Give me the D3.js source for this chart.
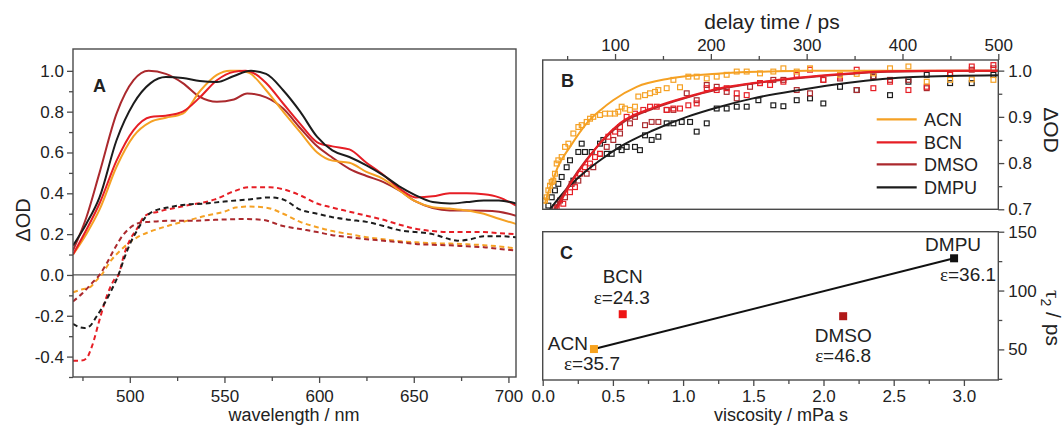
<!DOCTYPE html>
<html><head><meta charset="utf-8">
<script src="https://cdn.jsdelivr.net/npm/d3@7"></script>
<style>
body{margin:0;background:#fff}
svg{display:block}
text{font-family:"Liberation Sans",Arial,sans-serif;fill:#222}
</style>
</head><body>
<svg id="chart" width="1064" height="427"></svg>
<script>
// ---------------- DATA ----------------
const solvents = ["ACN", "BCN", "DMSO", "DMPU"];
const solventColors = ["#f5a124", "#e61e25", "#ab292d", "#1c1c1c"];

// Panel A: spectra (wavelength nm, ΔOD)
const wlTicks = [500, 550, 600, 650, 700];
const odTicksA = [-0.4, -0.2, 0.0, 0.2, 0.4, 0.6, 0.8, 1.0];
const specACN = [[470,0.10],[477,0.20],[484,0.32],[493,0.53],[502,0.68],[511,0.75],[519,0.77],[528,0.79],[537,0.90],[546,0.98],[553,1.0],[558,1.0],[563,0.99],[572,0.905],[581,0.80],[590,0.70],[599,0.60],[607,0.56],[616,0.55],[625,0.505],[634,0.47],[643,0.41],[651,0.36],[660,0.332],[669,0.325],[678,0.316],[687,0.30],[695,0.275],[704,0.25]];
const specBCN = [[470,0.10],[477,0.22],[484,0.35],[493,0.56],[502,0.71],[511,0.774],[519,0.78],[528,0.80],[537,0.87],[546,0.954],[555,0.995],[561,1.0],[567,0.98],[572,0.94],[581,0.84],[590,0.74],[599,0.65],[607,0.63],[616,0.615],[625,0.55],[634,0.49],[643,0.42],[651,0.38],[660,0.385],[669,0.40],[678,0.40],[687,0.395],[695,0.38],[704,0.34]];
const specDMSO = [[470,0.12],[477,0.28],[484,0.50],[493,0.79],[502,0.954],[510,1.0],[519,0.985],[528,0.94],[537,0.872],[546,0.848],[555,0.86],[562,0.889],[572,0.87],[581,0.815],[590,0.72],[599,0.63],[607,0.575],[616,0.52],[625,0.485],[634,0.455],[643,0.41],[651,0.36],[660,0.328],[669,0.316],[678,0.316],[687,0.315],[695,0.31],[704,0.29]];
const specDMPU = [[470,0.144],[477,0.25],[484,0.38],[493,0.66],[502,0.84],[511,0.94],[519,0.97],[528,0.965],[537,0.95],[546,0.945],[555,0.975],[564,1.0],[572,0.985],[581,0.905],[590,0.80],[599,0.676],[607,0.61],[616,0.578],[625,0.537],[634,0.488],[643,0.43],[651,0.39],[660,0.357],[669,0.35],[678,0.357],[687,0.365],[695,0.365],[704,0.35]];
const dashACN = [[470,-0.085],[475,-0.07],[479,-0.06],[482,-0.03],[485,0.0],[490,0.07],[495,0.12],[500,0.16],[505,0.19],[510,0.21],[520,0.24],[530,0.265],[540,0.29],[550,0.31],[556,0.33],[563,0.335],[572,0.33],[581,0.30],[590,0.26],[599,0.234],[607,0.215],[616,0.20],[625,0.185],[634,0.175],[643,0.165],[651,0.16],[660,0.155],[669,0.154],[678,0.15],[687,0.146],[695,0.14],[704,0.13]];
const dashBCN = [[470,-0.42],[474,-0.42],[477,-0.41],[480,-0.35],[484,-0.22],[488,-0.10],[492,-0.02],[494,0.0],[497,0.10],[500,0.17],[504,0.23],[508,0.29],[515,0.31],[530,0.34],[545,0.37],[555,0.41],[563,0.43],[574,0.43],[581,0.42],[590,0.39],[599,0.35],[607,0.33],[616,0.31],[625,0.29],[634,0.27],[643,0.245],[651,0.226],[660,0.215],[669,0.21],[678,0.21],[687,0.21],[695,0.205],[704,0.20]];
const dashDMSO = [[470,-0.13],[475,-0.09],[480,-0.04],[484,0.0],[488,0.06],[492,0.13],[496,0.19],[500,0.23],[505,0.255],[510,0.26],[520,0.265],[530,0.265],[545,0.27],[560,0.274],[570,0.27],[581,0.24],[590,0.225],[599,0.21],[607,0.195],[616,0.185],[625,0.175],[634,0.168],[643,0.16],[651,0.152],[660,0.148],[669,0.145],[678,0.14],[687,0.136],[695,0.128],[704,0.12]];
const dashDMPU = [[470,-0.24],[473,-0.255],[476,-0.26],[479,-0.25],[482,-0.21],[486,-0.15],[490,-0.08],[494,0.0],[497,0.08],[500,0.15],[504,0.22],[508,0.28],[512,0.31],[520,0.33],[530,0.345],[540,0.35],[550,0.36],[563,0.37],[574,0.38],[581,0.37],[590,0.32],[599,0.30],[607,0.283],[616,0.27],[625,0.26],[634,0.24],[643,0.218],[651,0.21],[660,0.20],[669,0.175],[673,0.168],[680,0.175],[687,0.19],[695,0.19],[704,0.185]];

// Panel B: kinetics (delay time ps, ΔOD)
const timeTicks = [100, 200, 300, 400, 500];
const odTicksB = [0.7, 0.8, 0.9, 1.0];
const ptsACN = [[26.9,0.719],[28.6,0.726],[30.4,0.741],[32.1,0.751],[33.9,0.759],[35.6,0.762],[37.3,0.777],[39.1,0.799],[40.8,0.806],[44.3,0.813],[47.8,0.835],[51.3,0.842],[56.5,0.864],[61.7,0.878],[65.2,0.882],[70.4,0.889],[73.9,0.896],[77.3,0.900],[84.3,0.904],[89.5,0.907],[94.7,0.907],[100,0.907],[103.4,0.911],[106.9,0.922],[110.4,0.918],[115.6,0.915],[120.8,0.922],[124.3,0.944],[131.3,0.947],[136.5,0.951],[141.7,0.954],[145.2,0.958],[153.9,0.962],[160.9,0.980],[167.8,0.964],[176.5,0.987],[185.2,0.987],[195.7,0.983],[206.1,0.987],[216.5,0.991],[227.0,0.998],[237.4,0.998],[251.3,0.994],[265.2,0.998],[275.7,1.005],[289.6,0.998],[303.5,1.005],[334.8,0.991],[352.2,0.993],[369.6,0.994],[387.0,1.005],[406.2,1.009],[425.3,0.976],[449.7,0.980],[472.3,0.981],[494.9,0.980]];
const ptsBCN = [[39.1,0.704],[46.0,0.712],[53.0,0.737],[58.2,0.748],[63.4,0.777],[68.6,0.791],[73.9,0.799],[79.1,0.813],[84.3,0.820],[93.0,0.857],[100,0.868],[105.2,0.878],[112.1,0.900],[120.8,0.907],[129.5,0.915],[136.5,0.922],[143.5,0.922],[153.9,0.915],[160.9,0.918],[167.8,0.918],[176.5,0.925],[185.2,0.929],[195.7,0.962],[206.1,0.958],[216.5,0.962],[227.0,0.951],[237.4,0.947],[251.3,0.973],[261.8,0.969],[275.7,0.976],[289.6,0.991],[303.5,1.002],[317.4,0.980],[334.8,0.987],[352.2,1.002],[369.6,0.962],[387.0,0.976],[406.2,0.958],[425.3,0.965],[449.7,0.991],[472.3,1.009],[494.9,1.012]];
const ptsDMSO = [[37.3,0.704],[42.6,0.719],[47.8,0.726],[54.7,0.755],[61.7,0.762],[70.4,0.777],[77.3,0.791],[84.3,0.820],[91.3,0.835],[98.2,0.850],[105.2,0.864],[115.6,0.886],[120.8,0.900],[131.3,0.882],[138.2,0.889],[145.2,0.889],[153.9,0.915],[160.9,0.915],[174.8,0.951],[185.2,0.936],[195.7,0.969],[206.1,0.965],[216.5,0.954],[227.0,0.940],[240.9,0.965],[251.3,0.973],[265.2,0.980],[275.7,0.980],[289.6,0.958],[303.5,0.951],[317.4,0.980],[334.8,0.983],[352.2,0.958],[369.6,0.987],[387.0,0.980],[406.2,0.980],[425.3,0.962],[449.7,0.994],[472.3,1.002],[494.9,1.005]];
const ptsDMPU = [[30.4,0.708],[33.9,0.726],[37.3,0.741],[40.8,0.755],[44.3,0.770],[49.5,0.791],[53.0,0.806],[56.5,0.762],[61.7,0.824],[65.2,0.842],[68.6,0.824],[75.6,0.824],[84.3,0.842],[87.8,0.850],[91.3,0.820],[96.5,0.820],[103.4,0.835],[106.9,0.828],[112.1,0.835],[120.8,0.835],[126.0,0.828],[131.3,0.860],[138.2,0.850],[145.2,0.857],[153.9,0.886],[160.9,0.886],[169.6,0.889],[178.3,0.889],[185.2,0.868],[195.7,0.886],[206.1,0.918],[216.5,0.918],[227.0,0.922],[237.4,0.922],[249.6,0.936],[265.2,0.925],[275.7,0.923],[289.6,0.936],[303.5,0.940],[317.4,0.929],[334.8,0.965],[352.2,0.958],[369.6,0.987],[387.0,0.947],[406.2,0.976],[425.3,0.991],[449.7,0.973],[472.3,0.973],[494.9,0.991]];
const fitACN = [[26.9,0.712],[30,0.735],[35,0.762],[40,0.790],[53,0.835],[70.4,0.886],[85,0.915],[98,0.936],[122.6,0.965],[157,0.983],[209.6,0.994],[260,0.998],[300,1.0],[500,1.0]];
const fitBCN = [[39,0.70],[55,0.76],[70.4,0.806],[87,0.85],[105,0.886],[140,0.92],[175,0.943],[209.6,0.962],[244,0.973],[293,0.985],[340,0.993],[376.6,0.998],[430,1.0],[500,1.0]];
const fitDMSO = [[37,0.70],[53,0.757],[70.4,0.808],[87,0.848],[105,0.883],[140,0.918],[175,0.942],[209.6,0.960],[244,0.972],[293,0.984],[340,0.992],[376.6,0.997],[430,0.999],[500,1.0]];
const fitDMPU = [[32,0.70],[50,0.745],[70.4,0.784],[87,0.81],[105,0.835],[140,0.871],[175,0.90],[209.6,0.922],[244,0.94],[293,0.958],[341.8,0.973],[411,0.986],[500,0.99]];

// Panel C: tau2 vs viscosity
const viscosity = [0.365, 0.57, 2.14, 2.93];
const tau2 = [50.3, 79.9, 78.2, 127.4];
const epsilon = ["ε=35.7", "ε=24.3", "ε=46.8", "ε=36.1"];
const viscTicks = [0.0, 0.5, 1.0, 1.5, 2.0, 2.5, 3.0];
const tauTicks = [50, 100, 150];
const trendLine = ["ACN", "DMPU"];

// ---------------- DRAW ----------------
const svg = d3.select("#chart");
const axisColor = "#4a4a4a";
const tickFont = 17;

const A = {l:73, r:516, t:49, b:377};
const B = {l:542.7, r:998.3, t:60, b:209.3};
const C = {l:542.7, r:998.3, t:231.7, b:380};

function frame(p){
  svg.append("rect").attr("x",p.l).attr("y",p.t).attr("width",p.r-p.l).attr("height",p.b-p.t)
    .attr("fill","none").attr("stroke",axisColor).attr("stroke-width",1.4);
}
function styleAxis(g){
  g.selectAll(".domain").remove();
  g.selectAll("line").attr("stroke",axisColor).attr("stroke-width",1.3);
  g.selectAll("text").style("font-size",tickFont+"px").attr("fill","#222");
}
function clip(id,p){
  svg.append("clipPath").attr("id",id).append("rect")
    .attr("x",p.l).attr("y",p.t).attr("width",p.r-p.l).attr("height",p.b-p.t);
}
const fmt1 = d => d3.format(".1f")(d).replace("−","-");

// ===== Panel A =====
const xA = d3.scaleLinear().domain([470, 704]).range([A.l, A.r]);
const yA = d3.scaleLinear().domain([-0.5, 1.107]).range([A.b, A.t]);
clip("clipA", A);

svg.append("g").attr("transform",`translate(${A.l},0)`)
  .call(d3.axisLeft(yA).tickValues([-0.5,-0.3,-0.1,0.1,0.3,0.5,0.7,0.9]).tickSize(4).tickFormat(""))
  .call(styleAxis);
svg.append("g").attr("transform",`translate(${A.l},0)`)
  .call(d3.axisLeft(yA).tickValues(odTicksA).tickSize(6).tickPadding(3).tickFormat(fmt1))
  .call(styleAxis);
svg.append("g").attr("transform",`translate(0,${A.b})`)
  .call(d3.axisBottom(xA).tickValues([475,525,575,625,675]).tickSize(4).tickFormat(""))
  .call(styleAxis);
svg.append("g").attr("transform",`translate(0,${A.b})`)
  .call(d3.axisBottom(xA).tickValues(wlTicks).tickSize(6).tickPadding(7).tickFormat(d3.format("d")))
  .call(styleAxis);

svg.append("line").attr("x1",A.l).attr("x2",A.r).attr("y1",yA(0)).attr("y2",yA(0))
  .attr("stroke","#555").attr("stroke-width",1.3);

const lineA = d3.line().x(d=>xA(d[0])).y(d=>yA(d[1])).curve(d3.curveMonotoneX);
const gA = svg.append("g").attr("clip-path","url(#clipA)");
const dashSets = [dashACN, dashBCN, dashDMSO, dashDMPU];
const specSets = [specACN, specBCN, specDMSO, specDMPU];
dashSets.forEach((s,i)=>{
  gA.append("path").attr("d",lineA(s)).attr("fill","none").attr("stroke",solventColors[i])
    .attr("stroke-width",2).attr("stroke-dasharray","5,3.5");
});
[2,0,1,3].forEach(i=>{
  gA.append("path").attr("d",lineA(specSets[i])).attr("fill","none").attr("stroke",solventColors[i])
    .attr("stroke-width",2);
});
frame(A);
svg.append("text").attr("x",93).attr("y",92).style("font-size","18px").style("font-weight","bold").text("A");
svg.append("text").attr("transform",`translate(30,220) rotate(-90)`).attr("text-anchor","middle")
  .style("font-size","20px").text("ΔOD");
svg.append("text").attr("x",294).attr("y",421).attr("text-anchor","middle").style("font-size","18px").text("wavelength / nm");

// ===== Panel B =====
const xB = d3.scaleLinear().domain([24.5, 500]).range([B.l, B.r]);
const yB = d3.scaleLinear().domain([0.7, 1.023]).range([B.b, B.t]);
clip("clipB", B);
svg.append("g").attr("transform",`translate(0,${B.t})`)
  .call(d3.axisTop(xB).tickValues([50,150,250,350,450]).tickSize(4).tickFormat(""))
  .call(styleAxis);
svg.append("g").attr("transform",`translate(0,${B.t})`)
  .call(d3.axisTop(xB).tickValues(timeTicks).tickSize(6).tickPadding(3).tickFormat(d3.format("d")))
  .call(styleAxis);
svg.append("g").attr("transform",`translate(${B.r},0)`)
  .call(d3.axisRight(yB).tickValues([0.75,0.85,0.95]).tickSize(4).tickFormat(""))
  .call(styleAxis);
svg.append("g").attr("transform",`translate(${B.r},0)`)
  .call(d3.axisRight(yB).tickValues(odTicksB).tickSize(6).tickPadding(4).tickFormat(fmt1))
  .call(styleAxis);

const gB = svg.append("g").attr("clip-path","url(#clipB)");
const ptSets = [ptsACN, ptsBCN, ptsDMSO, ptsDMPU];
const fitSets = [fitACN, fitBCN, fitDMSO, fitDMPU];
const lineB = d3.line().x(d=>xB(d[0])).y(d=>yB(d[1])).curve(d3.curveMonotoneX);
const ms = 4.8;
[3,2,1,0].forEach(i=>{
  gB.selectAll(null).data(ptSets[i]).enter().append("rect")
    .attr("x",d=>xB(d[0])-ms/2).attr("y",d=>yB(d[1])-ms/2).attr("width",ms).attr("height",ms)
    .attr("fill","none").attr("stroke",solventColors[i]).attr("stroke-width",1.2);
});
[3,0,2,1].forEach(i=>{
  gB.append("path").attr("d",lineB(fitSets[i])).attr("fill","none").attr("stroke",solventColors[i]).attr("stroke-width",2);
});
frame(B);
svg.append("text").attr("x",561).attr("y",87).style("font-size","18px").style("font-weight","bold").text("B");
svg.append("text").attr("x",772).attr("y",29).attr("text-anchor","middle").style("font-size","21px").text("delay time / ps");
svg.append("text").attr("transform",`translate(1044,130) rotate(90)`).attr("text-anchor","middle")
  .style("font-size","21px").text("ΔOD");

const legY = [119.3, 142.3, 164.3, 187.3];
solvents.forEach((s,i)=>{
  svg.append("line").attr("x1",876.7).attr("x2",916.7).attr("y1",legY[i]).attr("y2",legY[i])
    .attr("stroke",solventColors[i]).attr("stroke-width",2.2);
  svg.append("text").attr("x",924).attr("y",legY[i]+7).style("font-size","18px").text(s);
});

// ===== Panel C =====
const xC = d3.scaleLinear().domain([0, 3.245]).range([C.l, C.r]);
const yC = d3.scaleLinear().domain([24, 150]).range([C.b, C.t]);
svg.append("g").attr("transform",`translate(0,${C.b})`)
  .call(d3.axisBottom(xC).tickValues([0.25,0.75,1.25,1.75,2.25,2.75]).tickSize(4).tickFormat(""))
  .call(styleAxis);
svg.append("g").attr("transform",`translate(0,${C.b})`)
  .call(d3.axisBottom(xC).tickValues(viscTicks).tickSize(6).tickPadding(4).tickFormat(fmt1))
  .call(styleAxis);
svg.append("g").attr("transform",`translate(${C.r},0)`)
  .call(d3.axisRight(yC).tickValues([25,75,125]).tickSize(4).tickFormat(""))
  .call(styleAxis);
svg.append("g").attr("transform",`translate(${C.r},0)`)
  .call(d3.axisRight(yC).tickValues(tauTicks).tickSize(6).tickPadding(4).tickFormat(d3.format("d")))
  .call(styleAxis);

const iA = solvents.indexOf(trendLine[0]), iB = solvents.indexOf(trendLine[1]);
svg.append("line").attr("x1",xC(viscosity[iA])).attr("y1",yC(tau2[iA]))
  .attr("x2",xC(viscosity[iB])).attr("y2",yC(tau2[iB])).attr("stroke","#111").attr("stroke-width",2);
const cColors = ["#f7a21e", "#ee1414", "#b01818", "#111111"];
solvents.forEach((s,i)=>{
  svg.append("rect").attr("x",xC(viscosity[i])-4).attr("y",yC(tau2[i])-4).attr("width",8).attr("height",8)
    .attr("fill",cColors[i]);
});
const labelOff = [[-6,1,"end",-2,21],[0,-31,"middle",-1,-10],[0,26,"middle",0,46],[-1,-7,"middle",14,23]];
solvents.forEach((s,i)=>{
  const px = xC(viscosity[i]), py = yC(tau2[i]), o = labelOff[i];
  svg.append("text").attr("x",px+o[0]).attr("y",py+o[1]).attr("text-anchor",o[2]).style("font-size","19px").text(s);
  const t = svg.append("text").attr("x",px+o[3]).attr("y",py+o[4]).attr("text-anchor","middle").style("font-size","19px");
  t.append("tspan").style("font-family","'Liberation Serif',serif").text(epsilon[i].slice(0,1));
  t.append("tspan").text(epsilon[i].slice(1));
});
frame(C);
svg.append("text").attr("x",560).attr("y",259).style("font-size","18px").style("font-weight","bold").text("C");
svg.append("text").attr("x",781).attr("y",421).attr("text-anchor","middle").style("font-size","18px").text("viscosity / mPa s");
const tl = svg.append("text").attr("transform",`translate(1046,318) rotate(90)`).attr("text-anchor","middle").style("font-size","21px");
tl.append("tspan").style("font-family","'Liberation Serif',serif").text("τ");
tl.append("tspan").attr("dy",5).style("font-size","14px").text("2");
tl.append("tspan").attr("dy",-5).text(" / ps");
</script>
</body></html>
